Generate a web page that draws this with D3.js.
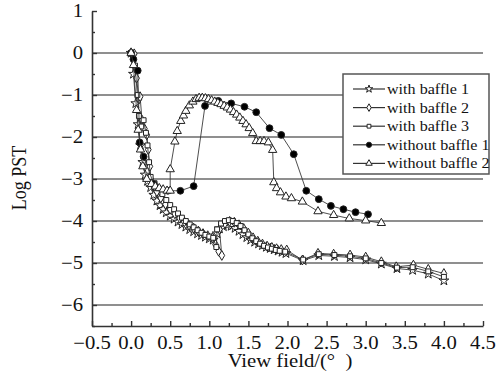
<!DOCTYPE html>
<html><head><meta charset="utf-8">
<script src="https://cdn.jsdelivr.net/npm/d3@7"></script>
<style>body{margin:0;background:#fff}svg{display:block}text{font-family:"Liberation Serif","Times New Roman",serif;fill:#111}</style>
</head><body>
<svg id="c" width="504" height="379"></svg>
<script>
const xTickValues = [-0.5,0,0.5,1,1.5,2,2.5,3,3.5,4,4.5];
const xTickLabels = ["\u22120.5","0.0","0.5","1.0","1.5","2.0","2.5","3.0","3.5","4.0","4.5"];
const yTickValues = [1,0,-1,-2,-3,-4,-5,-6];
const yTickLabels = ["1","0","\u22121","\u22122","\u22123","\u22124","\u22125","\u22126"];
const seriesNames = ["with baffle 1","with baffle 2","with baffle 3","without baffle 1","without baffle 2"];

const withBaffle1 = [[0,0],[0.03,-0.5],[0.06,-1.2],[0.09,-1.7],[0.12,-2.2],[0.15,-2.6],[0.18,-2.9],[0.21,-3.05],[0.25,-3.2],[0.29,-3.38],[0.33,-3.52],[0.37,-3.63],[0.41,-3.72],[0.45,-3.8],[0.5,-3.88],[0.55,-3.95],[0.6,-4.02],[0.65,-4.08],[0.7,-4.14],[0.75,-4.2],[0.8,-4.25],[0.85,-4.3],[0.9,-4.34],[0.95,-4.38],[1.0,-4.42],[1.05,-4.45],[1.1,-4.3],[1.13,-4.18],[1.18,-4.13],[1.23,-4.1],[1.28,-4.12],[1.33,-4.17],[1.38,-4.24],[1.43,-4.32],[1.48,-4.39],[1.53,-4.45],[1.58,-4.5],[1.63,-4.54],[1.68,-4.58],[1.73,-4.62],[1.78,-4.65],[1.83,-4.68],[1.88,-4.71],[1.93,-4.74],[1.98,-4.77],[2.2,-4.94],[2.4,-4.82],[2.6,-4.84],[2.8,-4.87],[3.0,-4.92],[3.2,-5.02],[3.4,-5.13],[3.6,-5.17],[3.8,-5.26],[4.0,-5.42]];
const withBaffle2 = [[0,0],[0.04,-0.02],[0.07,-0.6],[0.1,-1.1],[0.115,-1.04],[0.14,-1.6],[0.17,-1.8],[0.2,-1.95],[0.22,-2.3],[0.24,-2.7],[0.25,-3.0],[0.28,-3.15],[0.33,-3.3],[0.38,-3.45],[0.44,-3.6],[0.5,-3.72],[0.56,-3.83],[0.62,-3.93],[0.68,-4.02],[0.74,-4.1],[0.8,-4.17],[0.86,-4.24],[0.92,-4.3],[0.98,-4.35],[1.04,-4.4],[1.08,-4.56],[1.12,-4.72],[1.16,-4.82],[1.13,-4.2],[1.2,-4.06],[1.26,-4.01],[1.32,-4.03],[1.38,-4.09],[1.44,-4.18],[1.5,-4.29],[1.56,-4.4],[1.62,-4.48],[1.68,-4.55],[1.74,-4.6],[1.8,-4.63],[1.86,-4.66],[1.92,-4.68],[1.99,-4.69],[2.19,-4.93],[2.39,-4.77],[2.59,-4.79],[2.8,-4.81],[3.0,-4.86],[3.2,-4.97],[3.39,-5.09],[3.61,-5.05],[3.8,-5.15],[4.0,-5.25]];
const withBaffle3 = [[0,0],[0.05,-0.3],[0.08,-1.0],[0.1,-1.5],[0.13,-1.75],[0.16,-1.6],[0.19,-1.9],[0.21,-2.2],[0.23,-2.6],[0.25,-2.95],[0.3,-3.1],[0.35,-3.22],[0.4,-3.36],[0.45,-3.5],[0.5,-3.62],[0.55,-3.72],[0.6,-3.82],[0.65,-3.92],[0.7,-4.0],[0.75,-4.08],[0.8,-4.15],[0.85,-4.22],[0.9,-4.28],[0.95,-4.33],[1.0,-4.37],[1.05,-4.4],[1.09,-4.62],[1.1,-4.2],[1.15,-4.06],[1.2,-4.0],[1.25,-3.98],[1.3,-4.0],[1.35,-4.05],[1.4,-4.12],[1.45,-4.22],[1.5,-4.32],[1.55,-4.41],[1.6,-4.48],[1.65,-4.54],[1.7,-4.59],[1.75,-4.63],[1.8,-4.66],[1.85,-4.69],[1.9,-4.71],[1.97,-4.73],[2.2,-4.92],[2.4,-4.79],[2.6,-4.81],[2.8,-4.84],[3.0,-4.89],[3.2,-5.0],[3.4,-5.11],[3.6,-5.1],[3.8,-5.2],[4.0,-5.33]];
const withoutBaffle1 = [[0,0],[0.03,-0.15],[0.085,-0.42],[0.11,-2.13],[0.16,-2.47],[0.29,-3.12],[0.47,-3.28],[0.63,-3.28],[0.8,-3.17],[0.945,-1.26],[1.115,-1.14],[1.28,-1.2],[1.45,-1.28],[1.6,-1.41],[1.77,-1.79],[1.92,-1.95],[2.08,-2.41],[2.24,-3.28],[2.4,-3.48],[2.555,-3.64],[2.715,-3.72],[2.87,-3.79],[3.03,-3.84]];
const withoutBaffle2 = [[0,0],[0.03,-0.29],[0.07,-1.36],[0.09,-1.83],[0.12,-2.3],[0.15,-2.7],[0.2,-3.0],[0.26,-3.12],[0.31,-3.18],[0.36,-3.22],[0.41,-3.25],[0.46,-3.28],[0.5,-3.28],[0.5,-2.77],[0.56,-2.11],[0.59,-1.86],[0.635,-1.62],[0.67,-1.49],[0.7,-1.38],[0.745,-1.25],[0.79,-1.16],[0.83,-1.1],[0.87,-1.07],[0.91,-1.07],[0.95,-1.08],[0.99,-1.1],[1.03,-1.13],[1.07,-1.16],[1.11,-1.19],[1.15,-1.22],[1.19,-1.26],[1.23,-1.3],[1.27,-1.35],[1.31,-1.41],[1.35,-1.47],[1.39,-1.54],[1.43,-1.62],[1.47,-1.7],[1.51,-1.79],[1.555,-1.91],[1.6,-2.1],[1.65,-2.1],[1.7,-2.1],[1.755,-2.13],[1.81,-2.31],[1.825,-3.08],[1.86,-3.22],[1.91,-3.32],[1.98,-3.42],[2.05,-3.46],[2.19,-3.54],[2.39,-3.77],[2.59,-3.86],[2.79,-3.94],[3.0,-3.99],[3.2,-4.05]];

const allSeries = [withBaffle1, withBaffle2, withBaffle3, withoutBaffle1, withoutBaffle2];
const symbols = [d3.symbolStar, d3.symbolDiamond, d3.symbolSquare, d3.symbolCircle, d3.symbolTriangle];
const symSizes = [30, 28, 24, 36, 30];
const symFill = ["#fff","#fff","#fff","#000","#fff"];

const svg = d3.select("#c");
const x = d3.scaleLinear().domain([-0.5,4.5]).range([92,483]);
const y = d3.scaleLinear().domain([-6.5,1]).range([326,11]);
const SX = 1.15;

// gridlines
svg.append("g").selectAll("line").data(yTickValues.filter(v=>v<=0)).join("line")
  .attr("x1",x(-0.5)).attr("x2",x(4.5)).attr("y1",d=>y(d)).attr("y2",d=>y(d))
  .attr("stroke","#6a6a6a").attr("stroke-width",1.6);

// axes
const yAxis = d3.axisRight(y).tickValues(d3.range(-6.5,1.01,0.5)).tickSize(0).tickFormat("");
const gy = svg.append("g").attr("transform",`translate(${x(-0.5)},0)`).call(yAxis);
gy.select(".domain").attr("stroke","#333").attr("stroke-width",1.6);
gy.selectAll(".tick line").attr("x2",d=>Number.isInteger(d)?5:3).attr("stroke","#333").attr("stroke-width",1.4);

const xAxis = d3.axisTop(x).tickValues(d3.range(-0.5,4.501,0.25)).tickSize(0).tickFormat("");
const gx = svg.append("g").attr("transform",`translate(0,${y(-6.5)})`).call(xAxis);
gx.select(".domain").attr("stroke","#333").attr("stroke-width",1.6);
gx.selectAll(".tick line").attr("y2",d=>Math.abs(d*2-Math.round(d*2))<1e-6?-5:-3).attr("stroke","#333").attr("stroke-width",1.4);

// tick labels
svg.append("g").selectAll("text").data(yTickValues).join("text")
  .attr("transform",(d)=>`translate(83,${y(d)+6}) scale(${SX},1)`)
  .attr("text-anchor","end").attr("font-size",18).text((d,i)=>yTickLabels[i]);
svg.append("g").selectAll("text").data(xTickValues).join("text")
  .attr("transform",(d)=>`translate(${x(d)},349) scale(${SX},1)`)
  .attr("text-anchor","middle").attr("font-size",18).text((d,i)=>xTickLabels[i]);

// titles
svg.append("text").attr("transform",`translate(290,367) scale(${SX},1)`).attr("text-anchor","middle").attr("font-size",18).text("View field/(\u00B0\u2002)");
svg.append("text").attr("transform",`translate(26,178) rotate(-90) scale(1,${SX})`).attr("text-anchor","middle").attr("font-size",18).text("Log PST");

// series
const line = d3.line().x(d=>x(d[0])).y(d=>y(d[1]));
allSeries.forEach((s,i)=>{
  const g = svg.append("g");
  g.append("path").attr("d",line(s)).attr("fill","none").attr("stroke","#3a3a3a").attr("stroke-width",0.9);
  g.selectAll("path.m").data(s).join("path").attr("class","m")
    .attr("transform",d=>`translate(${x(d[0])},${y(d[1])})`)
    .attr("d",d3.symbol(symbols[i],symSizes[i]))
    .attr("fill",symFill[i]).attr("stroke","#222").attr("stroke-width",1);
});

// legend
const lg = svg.append("g");
lg.append("rect").attr("x",343).attr("y",74).attr("width",146).attr("height",100).attr("fill","#fff").attr("stroke","#555").attr("stroke-width",1.5);
seriesNames.forEach((n,i)=>{
  const ly = 89 + i*18.6;
  lg.append("line").attr("x1",353).attr("x2",385).attr("y1",ly).attr("y2",ly).attr("stroke","#333").attr("stroke-width",1.2);
  lg.append("path").attr("transform",`translate(369,${ly})`).attr("d",d3.symbol(symbols[i],symSizes[i]*0.6))
    .attr("fill",symFill[i]).attr("stroke","#222").attr("stroke-width",1);
  lg.append("text").attr("transform",`translate(387,${ly+5}) scale(${SX},1)`).attr("font-size",14).text(n);
});
</script>
</body></html>
